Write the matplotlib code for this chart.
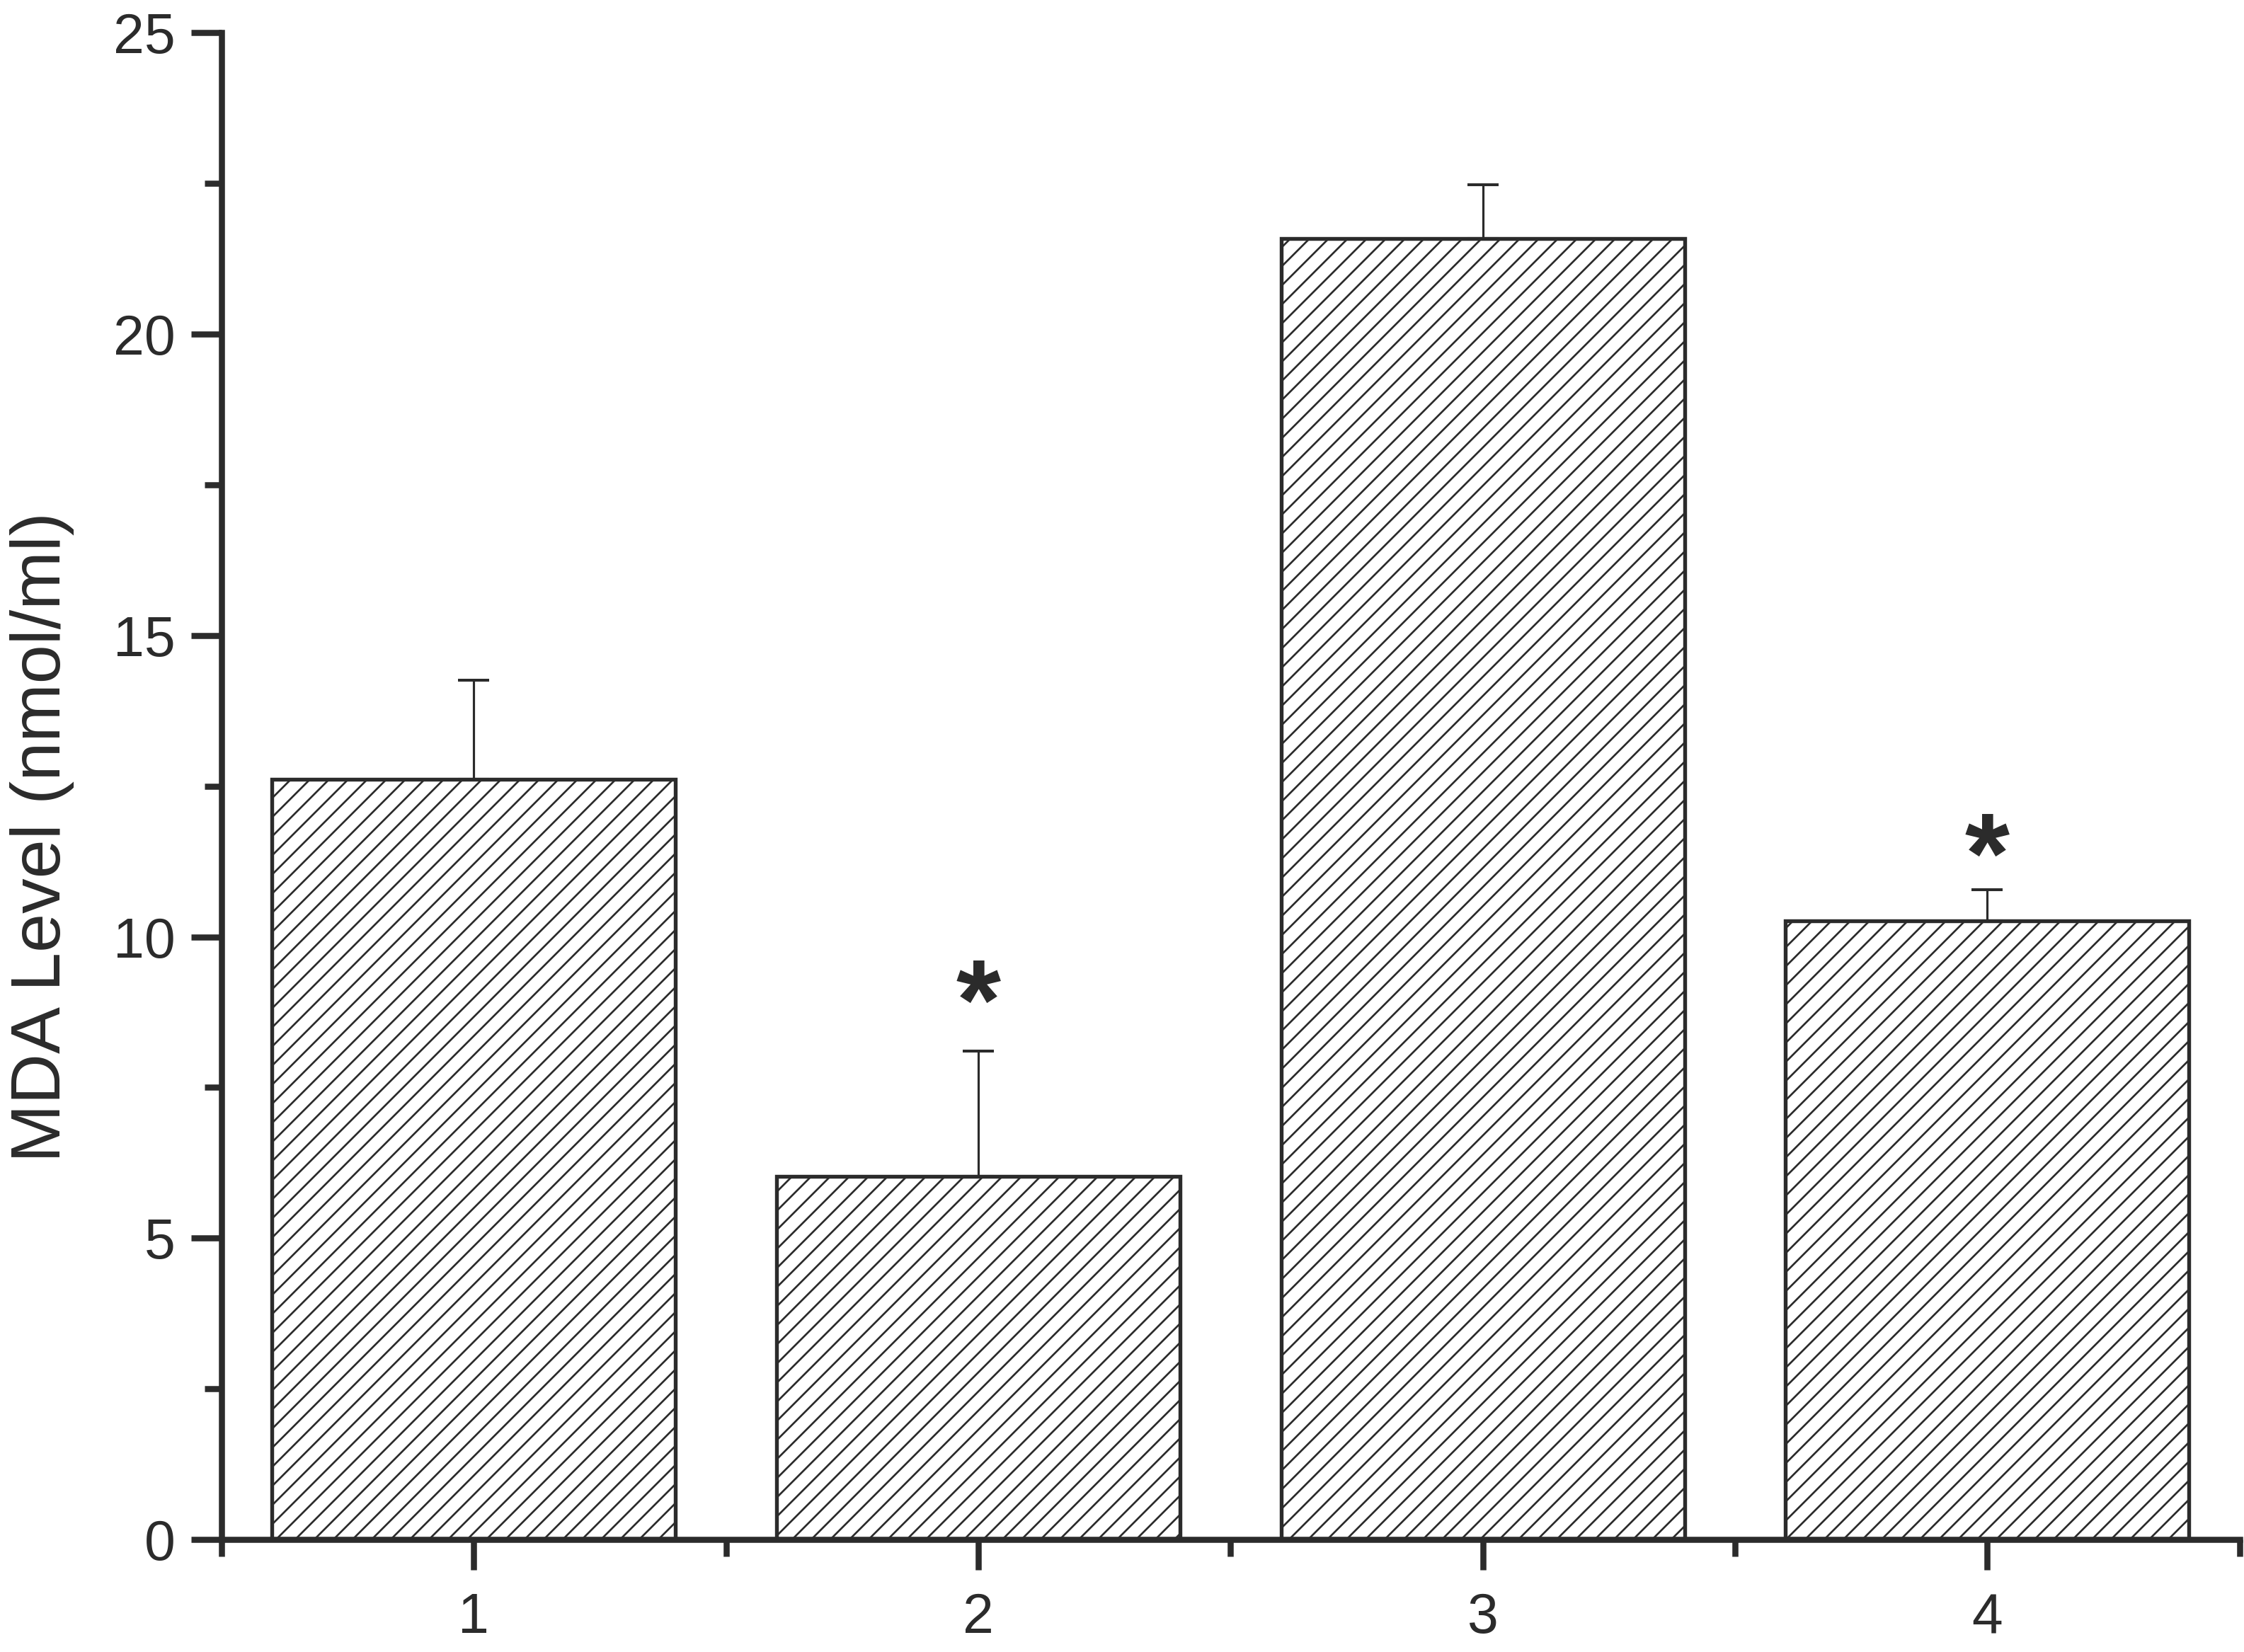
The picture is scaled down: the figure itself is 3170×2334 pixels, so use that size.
import matplotlib
matplotlib.use("Agg")
import matplotlib.pyplot as plt
from matplotlib.ticker import MultipleLocator, FixedLocator
from matplotlib.transforms import ScaledTranslation

# Data
groups = ["1", "2", "3", "4"]
positions = [1, 2, 3, 4]
means = [12.61, 6.02, 21.59, 10.26]
errors = [1.65, 2.09, 0.89, 0.52]
star_groups = [2, 4]
star_y = [9.29, 11.72]

DPI = 324
plt.rcParams['font.family'] = ['Liberation Sans', 'DejaVu Sans']
plt.rcParams['hatch.linewidth'] = 0.6
plt.rcParams['hatch.color'] = '#333333'

dark = '#2b2b2b'
fig = plt.figure(figsize=(3170 / DPI, 2334 / DPI), dpi=DPI)
ax = fig.add_axes([0.0987, 0.0681, 0.8993, 0.912])

ax.bar(positions, means, width=0.8, color='white', edgecolor=dark,
       linewidth=1.2, hatch='////', zorder=2)
ax.errorbar(positions, means, yerr=[[0] * len(errors), errors], fmt='none',
            ecolor=dark, elinewidth=0.7, capsize=4.8, capthick=0.9, zorder=1)

star_fs = 36
star_shift = ScaledTranslation(0, -0.26 * star_fs / 72, fig.dpi_scale_trans)
for g, y in zip(star_groups, star_y):
    ax.text(g, y, '*', ha='center', va='center', fontsize=star_fs,
            color=dark, fontweight='bold', transform=ax.transData + star_shift)

ax.set_xlim(0.5, 4.5)
ax.set_ylim(0, 25)
ax.set_xticks(positions)
ax.set_xticklabels(groups)
ax.xaxis.set_minor_locator(FixedLocator([0.5, 1.5, 2.5, 3.5, 4.5]))
ax.yaxis.set_major_locator(MultipleLocator(5))
ax.yaxis.set_minor_locator(MultipleLocator(2.5))

for s in ['top', 'right']:
    ax.spines[s].set_visible(False)
for s in ['left', 'bottom']:
    ax.spines[s].set_linewidth(1.9)
    ax.spines[s].set_color(dark)

ax.tick_params(which='major', direction='out', length=9.5, width=1.9,
               color=dark, labelsize=17.5, labelcolor=dark)
ax.tick_params(which='minor', direction='out', length=5.3, width=1.9, color=dark)
ax.tick_params(axis='y', which='major', pad=5)
ax.tick_params(axis='x', which='major', pad=7)

ax.set_ylabel('MDA Level (nmol/ml)', fontsize=22, color=dark)
ax.yaxis.set_label_coords(-0.073, 0.466)

fig.savefig('out.png', dpi=DPI)
